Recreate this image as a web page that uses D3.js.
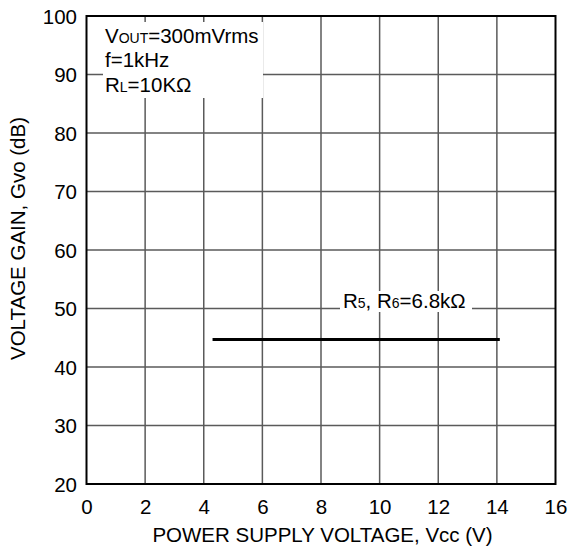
<!DOCTYPE html>
<html>
<head>
<meta charset="utf-8">
<script src="https://cdn.jsdelivr.net/npm/d3@7"></script>
<style>
  html, body { margin: 0; padding: 0; background: #fff; }
  svg { display: block; font-family: "Liberation Sans", Arial, sans-serif; }
</style>
</head>
<body>
<svg id="chart" width="568" height="549"></svg>
<script>
const xTicks = [0, 2, 4, 6, 8, 10, 12, 14, 16];
const yTicks = [20, 30, 40, 50, 60, 70, 80, 90, 100];
const supplyVoltage = [4.3, 14.1];
const voltageGain = [44.7, 44.7];
const seriesLabel = ["R", "5", ", R", "6", "=6.8kΩ"];
const conditions = [
  [["V", false], ["OUT", true], ["=300mVrms", false]],
  [["f=1kHz", false]],
  [["R", false], ["L", true], ["=10KΩ", false]]
];

(function () {
const svg = d3.select("#chart");
const pL = 86.5, pR = 555.5, pT = 16, pB = 484;
const x = d3.scaleLinear().domain([0, 16]).range([pL, pR]);
const y = d3.scaleLinear().domain([20, 100]).range([pB, pT]);
const fs = 20.5, fsSmall = 14;

// grid
const grid = svg.append("g");
grid.selectAll("line.v").data(xTicks.slice(1, -1)).enter().append("line")
  .attr("x1", d => x(d)).attr("x2", d => x(d)).attr("y1", pT).attr("y2", pB)
  .attr("stroke", "#5a5a5a").attr("stroke-width", 1.5);
grid.selectAll("line.h").data(yTicks.slice(1, -1)).enter().append("line")
  .attr("y1", d => y(d)).attr("y2", d => y(d)).attr("x1", pL).attr("x2", pR)
  .attr("stroke", "#5a5a5a").attr("stroke-width", 1.5);

// condition box (white background)
svg.append("rect").attr("x", 103).attr("y", 22).attr("width", 160).attr("height", 76).attr("fill", "#fff");
const baselines = [43, 67, 92];
conditions.forEach((parts, i) => {
  const t = svg.append("text").attr("x", 105).attr("y", baselines[i]).attr("font-size", fs).attr("fill", "#000");
  parts.forEach(([s, small]) => {
    t.append("tspan").text(s).attr("font-size", small ? fsSmall : fs);
  });
});

// series label box
svg.append("rect").attr("x", 340).attr("y", 291).attr("width", 132).attr("height", 21).attr("fill", "#fff");
const lt = svg.append("text").attr("x", 343).attr("y", 308).attr("font-size", fs).attr("fill", "#000");
seriesLabel.forEach((s, i) => lt.append("tspan").text(s).attr("font-size", (i === 1 || i === 3) ? fsSmall : fs));

// series line
const pts = supplyVoltage.map((v, i) => [v, voltageGain[i]]);
svg.append("path").datum(pts)
  .attr("d", d3.line().x(d => x(d[0])).y(d => y(d[1])))
  .attr("fill", "none").attr("stroke", "#000").attr("stroke-width", 3);

// border
svg.append("rect").attr("x", pL).attr("y", pT).attr("width", pR - pL).attr("height", pB - pT)
  .attr("fill", "none").attr("stroke", "#000").attr("stroke-width", 2);

// axes
const xAxis = d3.axisBottom(x).tickValues(xTicks).tickSize(0).tickPadding(0).tickFormat(d3.format("d"));
const gx = svg.append("g").attr("transform", `translate(0,${pB})`).call(xAxis);
gx.select(".domain").remove();
gx.selectAll("text").attr("font-size", fs).attr("fill", "#000").attr("font-family", "Liberation Sans, Arial, sans-serif")
  .attr("dy", null).attr("y", 30);

const yAxis = d3.axisLeft(y).tickValues(yTicks).tickSize(0).tickPadding(0).tickFormat(d3.format("d"));
const gy = svg.append("g").attr("transform", `translate(${pL - 9.5},0)`).call(yAxis);
gy.select(".domain").remove();
gy.selectAll("text").attr("font-size", fs).attr("fill", "#000").attr("font-family", "Liberation Sans, Arial, sans-serif")
  .attr("dy", "0.35em").attr("x", 0);

// titles
svg.append("text").attr("x", (pL + pR) / 2 + 1.5).attr("y", 542).attr("text-anchor", "middle")
  .attr("font-size", fs).attr("fill", "#000").text("POWER SUPPLY VOLTAGE, Vcc (V)");
svg.append("text").attr("transform", `translate(25,${(119 + 358) / 2}) rotate(-90)`).attr("text-anchor", "middle")
  .attr("font-size", fs).attr("fill", "#000").text("VOLTAGE GAIN, Gvo (dB)");
})();
</script>
</body>
</html>
